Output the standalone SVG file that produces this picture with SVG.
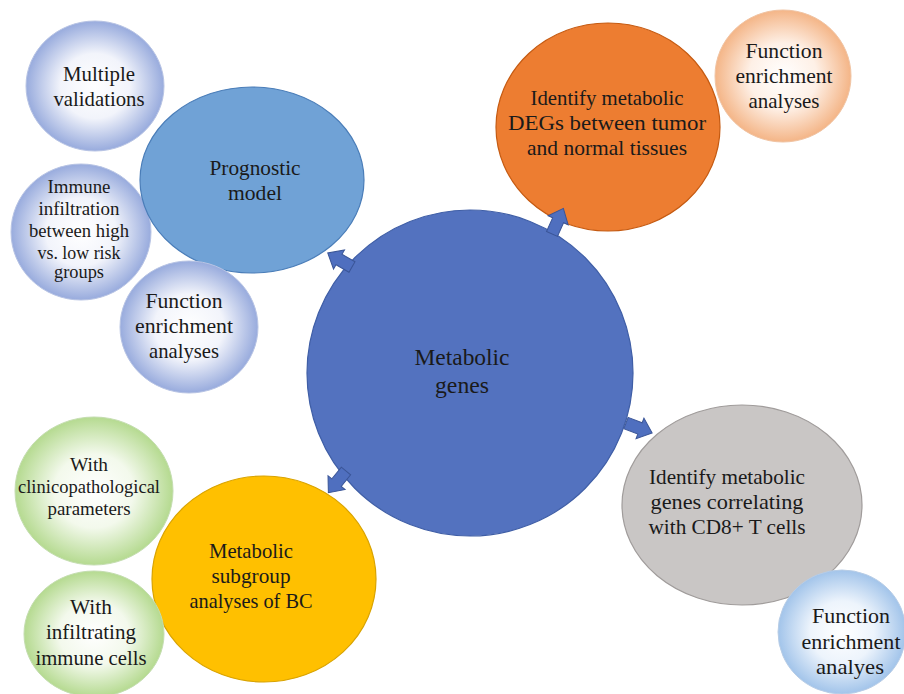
<svg xmlns="http://www.w3.org/2000/svg" width="904" height="694" viewBox="0 0 904 694">
<defs>
<radialGradient id="gb" cx="50%" cy="50%" r="50%">
<stop offset="0" stop-color="#ffffff"/><stop offset="0.5" stop-color="#f2f4fb"/><stop offset="1" stop-color="#98abdd"/>
</radialGradient>
<radialGradient id="go" cx="50%" cy="50%" r="50%">
<stop offset="0" stop-color="#ffffff"/><stop offset="0.5" stop-color="#fef0e6"/><stop offset="1" stop-color="#f4b587"/>
</radialGradient>
<radialGradient id="gg" cx="50%" cy="50%" r="50%">
<stop offset="0" stop-color="#ffffff"/><stop offset="0.5" stop-color="#f3f9ec"/><stop offset="1" stop-color="#b5da90"/>
</radialGradient>
<radialGradient id="gc" cx="50%" cy="50%" r="50%">
<stop offset="0" stop-color="#ffffff"/><stop offset="0.5" stop-color="#edf4fc"/><stop offset="1" stop-color="#a2c4ea"/>
</radialGradient>
<polygon id="arr" points="0,-6 15,-6 15,-11 28,0 15,11 15,6 0,6"/>
</defs>
<style>
text{font-family:"Liberation Serif","Times New Roman",serif;fill:#1a1a1a;text-anchor:middle;font-size:21px}
.sm{font-size:18px}
.xl{font-size:23px}
.arrow{fill:#4f6fbf;stroke:#3a5597;stroke-width:1}
</style>
<rect width="904" height="694" fill="#ffffff"/>

<g id="n-multiple">
<ellipse cx="95" cy="86" rx="69" ry="65" fill="url(#gb)" stroke="#b8c4e4" stroke-width="1"/>
<text x="99" y="81" textLength="72" lengthAdjust="spacingAndGlyphs">Multiple</text>
<text x="99" y="106" textLength="91" lengthAdjust="spacingAndGlyphs">validations</text>
</g>
<g id="n-immune">
<ellipse cx="81" cy="232" rx="70" ry="68" fill="url(#gb)" stroke="#b8c4e4" stroke-width="1"/>
<text class="sm" x="79" y="193" textLength="63" lengthAdjust="spacingAndGlyphs">Immune</text>
<text class="sm" x="79" y="215" textLength="81" lengthAdjust="spacingAndGlyphs">infiltration</text>
<text class="sm" x="79" y="237" textLength="100" lengthAdjust="spacingAndGlyphs">between high</text>
<text class="sm" x="79" y="259" textLength="83" lengthAdjust="spacingAndGlyphs">vs. low risk</text>
<text class="sm" x="79" y="278" textLength="50" lengthAdjust="spacingAndGlyphs">groups</text>
</g>
<g id="n-prognostic">
<ellipse cx="252" cy="180" rx="112" ry="93" fill="#70a2d6" stroke="#4a7db8" stroke-width="1.2"/>
<text x="255" y="175" textLength="91" lengthAdjust="spacingAndGlyphs">Prognostic</text>
<text x="255" y="200" textLength="54" lengthAdjust="spacingAndGlyphs">model</text>
</g>
<g id="n-func-left">
<ellipse cx="189" cy="327" rx="69" ry="66" fill="url(#gb)" stroke="#b8c4e4" stroke-width="1"/>
<text x="184" y="308" textLength="77" lengthAdjust="spacingAndGlyphs">Function</text>
<text x="184" y="333" textLength="98" lengthAdjust="spacingAndGlyphs">enrichment</text>
<text x="184" y="358" textLength="70" lengthAdjust="spacingAndGlyphs">analyses</text>
</g>
<g id="n-degs">
<ellipse cx="608" cy="127" rx="112" ry="104" fill="#ed7d31" stroke="#c55a11" stroke-width="1.2"/>
<text x="607" y="105" textLength="153" lengthAdjust="spacingAndGlyphs">Identify metabolic</text>
<text x="607" y="130" textLength="198" lengthAdjust="spacingAndGlyphs">DEGs between tumor</text>
<text x="607" y="155" textLength="160" lengthAdjust="spacingAndGlyphs">and normal tissues</text>
</g>
<g id="n-func-tr">
<ellipse cx="783" cy="76" rx="68" ry="66" fill="url(#go)" stroke="#f0c4a4" stroke-width="1"/>
<text x="784" y="58" textLength="77" lengthAdjust="spacingAndGlyphs">Function</text>
<text x="784" y="83" textLength="97" lengthAdjust="spacingAndGlyphs">enrichment</text>
<text x="784" y="108" textLength="71" lengthAdjust="spacingAndGlyphs">analyses</text>
</g>
<g id="n-metabolic">
<circle cx="470" cy="373" r="163" fill="#5372bf" stroke="#3f5ea6" stroke-width="1.2"/>
<text class="xl" x="462" y="365" textLength="95" lengthAdjust="spacingAndGlyphs">Metabolic</text>
<text class="xl" x="462" y="393" textLength="54" lengthAdjust="spacingAndGlyphs">genes</text>
</g>
<g id="n-cd8">
<ellipse cx="742" cy="505" rx="120" ry="100" fill="#c9c6c5" stroke="#a09c9b" stroke-width="1.2"/>
<text x="727" y="484" textLength="156" lengthAdjust="spacingAndGlyphs">Identify metabolic</text>
<text x="727" y="509" textLength="153" lengthAdjust="spacingAndGlyphs">genes correlating</text>
<text x="727" y="534" textLength="157" lengthAdjust="spacingAndGlyphs">with CD8+ T cells</text>
</g>
<g id="n-func-br">
<ellipse cx="842" cy="632" rx="64" ry="62" fill="url(#gc)" stroke="#b8cde6" stroke-width="1"/>
<text x="851" y="623" textLength="78" lengthAdjust="spacingAndGlyphs">Function</text>
<text x="851" y="649" textLength="99" lengthAdjust="spacingAndGlyphs">enrichment</text>
<text x="850" y="674" textLength="68" lengthAdjust="spacingAndGlyphs">analyes</text>
</g>
<g id="n-clinico">
<ellipse cx="94" cy="491" rx="79" ry="74" fill="url(#gg)" stroke="#c4ddb0" stroke-width="1"/>
<text class="sm" x="89" y="471" textLength="38" lengthAdjust="spacingAndGlyphs">With</text>
<text class="sm" x="89" y="493" textLength="142" lengthAdjust="spacingAndGlyphs">clinicopathological</text>
<text class="sm" x="89" y="515" textLength="83" lengthAdjust="spacingAndGlyphs">parameters</text>
</g>
<g id="n-subgroup">
<ellipse cx="264" cy="579" rx="112" ry="103" fill="#ffc000" stroke="#d9a300" stroke-width="1.2"/>
<text x="251" y="558" textLength="84" lengthAdjust="spacingAndGlyphs">Metabolic</text>
<text x="251" y="583" textLength="79" lengthAdjust="spacingAndGlyphs">subgroup</text>
<text x="251" y="608" textLength="123" lengthAdjust="spacingAndGlyphs">analyses of BC</text>
</g>
<g id="n-infiltrating">
<ellipse cx="94" cy="634" rx="70" ry="63" fill="url(#gg)" stroke="#c4ddb0" stroke-width="1"/>
<text x="91" y="614" textLength="42" lengthAdjust="spacingAndGlyphs">With</text>
<text x="91" y="639" textLength="90" lengthAdjust="spacingAndGlyphs">infiltrating</text>
<text x="91" y="665" textLength="111" lengthAdjust="spacingAndGlyphs">immune cells</text>
</g>

<g id="connectors">
<use href="#arr" class="arrow" transform="translate(352,267) rotate(210)"/>
<use href="#arr" class="arrow" transform="translate(552,234) rotate(-66)"/>
<use href="#arr" class="arrow" transform="translate(626,423) rotate(21)"/>
<use href="#arr" class="arrow" transform="translate(346,471) rotate(129)"/>
</g>
</svg>
